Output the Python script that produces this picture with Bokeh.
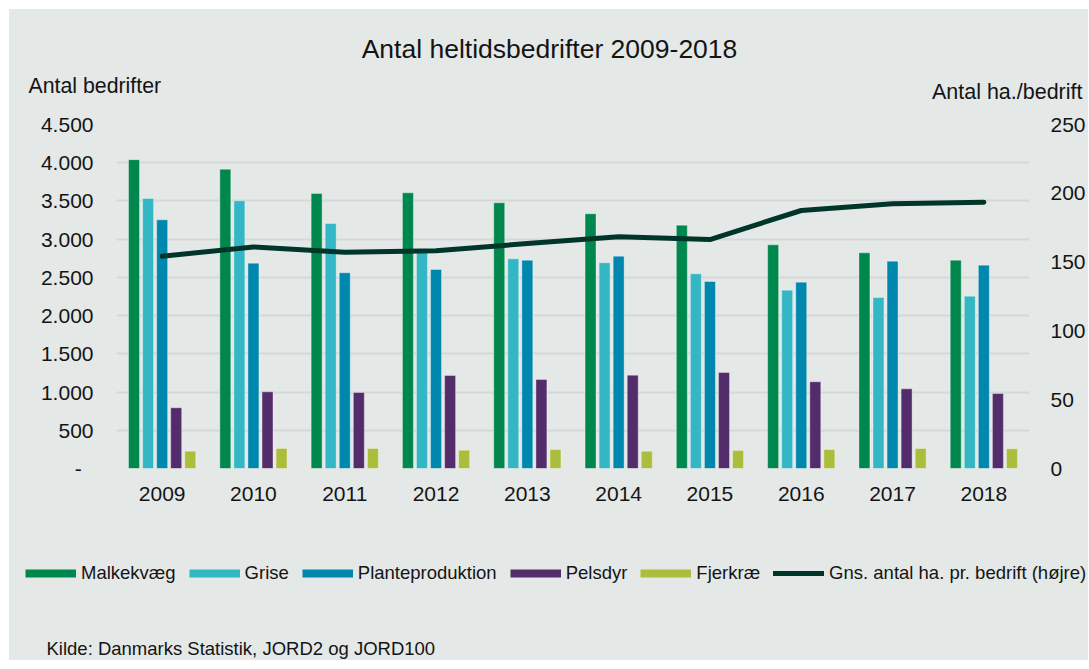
from bokeh.plotting import figure
from bokeh.layouts import column
from bokeh.models import (Range1d, LinearAxis, FixedTicker, FactorRange, Legend,
                          LegendItem, Label, ColumnDataSource)
from bokeh.transform import dodge
from bokeh.embed import file_html
from bokeh.resources import INLINE

# ---------------- data ----------------
years = ["2009", "2010", "2011", "2012", "2013", "2014", "2015", "2016", "2017", "2018"]
malkekvaeg = [4040, 3915, 3597, 3606, 3476, 3332, 3183, 2926, 2821, 2725]
grise = [3532, 3502, 3205, 2843, 2743, 2691, 2547, 2333, 2237, 2254]
planteproduktion = [3253, 2686, 2560, 2603, 2725, 2777, 2446, 2437, 2712, 2660]
pelsdyr = [794, 1003, 994, 1217, 1164, 1221, 1256, 1134, 1042, 981]
fjerkrae = [227, 262, 262, 240, 249, 227, 235, 249, 262, 257]
ha_pr_bedrift = [154.3, 161.0, 157.2, 158.2, 163.5, 168.4, 166.4, 187.5, 192.4, 193.5]

series_names = ["Malkekvæg", "Grise", "Planteproduktion", "Pelsdyr", "Fjerkræ"]
line_name = "Gns. antal ha. pr. bedrift (højre)"

left_ticks = [0, 500, 1000, 1500, 2000, 2500, 3000, 3500, 4000, 4500]
left_tick_labels = ["-\u00a0\u00a0", "500", "1.000", "1.500", "2.000", "2.500", "3.000",
                    "3.500", "4.000", "4.500"]
right_ticks = [0, 50, 100, 150, 200, 250]

title_text = "Antal heltidsbedrifter 2009-2018"
left_title = "Antal bedrifter"
right_title = "Antal ha./bedrift"
source_text = "Kilde: Danmarks Statistik, JORD2 og JORD100"

# ---------------- style ----------------
BG = "#e4e8e7"
GRID = "#d5d8d7"
TXT = "#141414"
FONT = "Liberation Sans"
colors = ["#00874d", "#33b7c4", "#0087ae", "#532c6b", "#abbd3a"]
LINE_COLOR = "#00352a"
offsets = [-0.308, -0.154, 0.0, 0.154, 0.308]
bar_width = 0.12

W = 1079
HEAD_H = 100
MAIN_H = 420
FOOT_H = 131


def blank(height):
    f = figure(width=W, height=height, x_range=Range1d(0, W), y_range=Range1d(0, height),
               output_backend="svg", toolbar_location=None,
               x_axis_location=None, y_axis_location=None,
               min_border=0, min_border_left=0, min_border_right=0,
               min_border_top=0, min_border_bottom=0, frame_align=False,
               background_fill_alpha=0, border_fill_color=BG, outline_line_color=None)
    f.grid.visible = False
    return f


# ---------------- header ----------------
head = blank(HEAD_H)
head.add_layout(Label(x=540, y=61, text=title_text, text_align="center",
                      text_baseline="alphabetic", text_font=FONT,
                      text_font_size="26.5px", text_color=TXT))
head.add_layout(Label(x=19, y=23.5, text=left_title, text_align="left",
                      text_baseline="alphabetic", text_font=FONT,
                      text_font_size="21.3px", text_color=TXT))
head.add_layout(Label(x=1073, y=17.5, text=right_title, text_align="right",
                      text_baseline="alphabetic", text_font=FONT,
                      text_font_size="21.5px", text_color=TXT))

# ---------------- main chart ----------------
src = ColumnDataSource(dict(year=years, s0=malkekvaeg, s1=grise, s2=planteproduktion,
                            s3=pelsdyr, s4=fjerkrae, ha=ha_pr_bedrift))

p = figure(x_range=FactorRange(factors=years, range_padding=0),
           y_range=Range1d(0, 4500),
           width=W, height=MAIN_H, frame_align=False,
           output_backend="svg", toolbar_location=None,
           min_border_left=107, min_border_right=56,
           min_border_top=15, min_border_bottom=61,
           background_fill_alpha=0, border_fill_color=BG,
           outline_line_color=None)

p.extra_y_ranges = {"ha": Range1d(0, 250)}

p.xgrid.visible = False
p.ygrid.ticker = FixedTicker(ticks=left_ticks)
p.ygrid.grid_line_color = GRID
p.ygrid.grid_line_width = 2

ya = p.yaxis[0]
ya.ticker = FixedTicker(ticks=left_ticks)
ya.major_label_overrides = {t: l for t, l in zip(left_ticks, left_tick_labels)}
ya.axis_line_color = None
ya.major_tick_line_color = None
ya.minor_tick_line_color = None
ya.major_tick_out = 0
ya.major_tick_in = 0
ya.major_label_standoff = 23
ya.major_label_text_font = FONT
ya.major_label_text_font_size = "21px"
ya.major_label_text_color = TXT

ra = LinearAxis(y_range_name="ha", ticker=FixedTicker(ticks=right_ticks))
ra.axis_line_color = None
ra.major_tick_line_color = None
ra.minor_tick_line_color = None
ra.major_tick_out = 0
ra.major_tick_in = 0
ra.major_label_standoff = 21
ra.major_label_text_font = FONT
ra.major_label_text_font_size = "21px"
ra.major_label_text_color = TXT
p.add_layout(ra, "right")

xa = p.xaxis[0]
xa.axis_line_color = None
xa.major_tick_line_color = None
xa.minor_tick_line_color = None
xa.major_tick_out = 0
xa.major_tick_in = 0
xa.major_label_standoff = 18
xa.major_label_text_font = FONT
xa.major_label_text_font_size = "21px"
xa.major_label_text_color = TXT

for i in range(5):
    p.vbar(x=dodge("year", offsets[i], range=p.x_range), top="s%d" % i, width=bar_width,
           source=src, fill_color=colors[i], line_color="white", line_alpha=0.35, line_width=1)

p.line(x="year", y="ha", source=src, y_range_name="ha", line_color=LINE_COLOR,
       line_width=5, line_join="round", line_cap="round")

# ---------------- footer: legend + source ----------------
foot = blank(FOOT_H)
hidden_x = [-200, -100]
hidden_y = [-200, -200]
dummies = []
for i in range(5):
    dummies.append(foot.line(x=hidden_x, y=hidden_y, line_color=colors[i], line_width=8,
                             line_cap="butt"))
dline = foot.line(x=hidden_x, y=hidden_y, line_color=LINE_COLOR, line_width=5, line_cap="round")

items = [LegendItem(label=series_names[i], renderers=[dummies[i]]) for i in range(5)]
items.append(LegendItem(label=line_name, renderers=[dline]))
legend = Legend(items=items, orientation="horizontal", location=(16, 76),
                glyph_width=51, glyph_height=20, label_height=20, label_standoff=5,
                spacing=13, padding=0, margin=0, border_line_color=None,
                background_fill_alpha=0, label_text_font=FONT,
                label_text_font_size="18.5px", label_text_color=TXT)
foot.add_layout(legend)
foot.add_layout(Label(x=37, y=12, text=source_text, text_align="left",
                      text_baseline="alphabetic", text_font=FONT,
                      text_font_size="18.5px", text_color=TXT))

layout = column(head, p, foot, spacing=0, margin=(9, 0, 0, 9),
                styles={"background-color": BG})
open("out.html", "w").write(file_html(layout, INLINE))
